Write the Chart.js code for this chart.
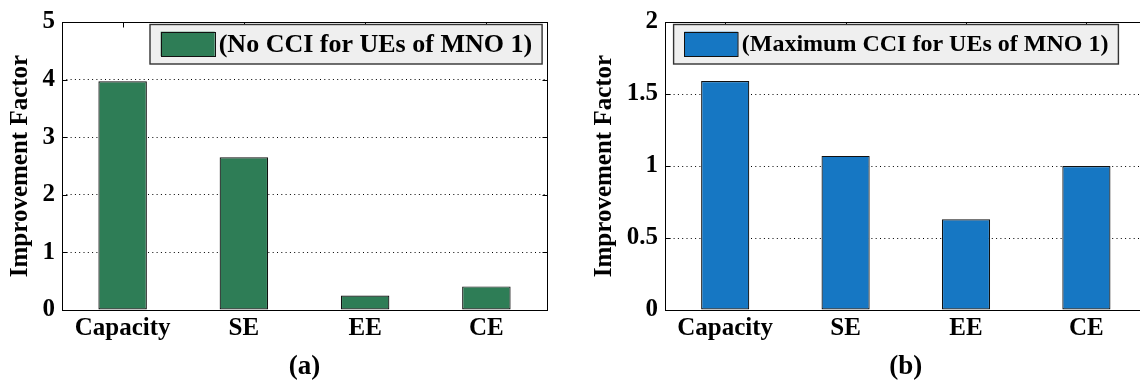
<!DOCTYPE html>
<html>
<head>
<meta charset="utf-8">
<script src="https://cdn.jsdelivr.net/npm/chart.js@4.4.1/dist/chart.umd.min.js"></script>
<style>
  html, body { margin: 0; padding: 0; background: #fff; width: 1140px; height: 383px; overflow: hidden; }
  #wrapA { position: absolute; left: 0; top: 0; width: 570px; height: 383px; }
  #wrapB { position: absolute; left: 570px; top: 0; width: 600px; height: 383px; }
</style>
</head>
<body>
<div id="wrapA"><canvas id="chartA" width="570" height="383"></canvas></div>
<div id="wrapB"><canvas id="chartB" width="600" height="383"></canvas></div>
<script>
// ---- data ----
const categories = ['Capacity', 'SE', 'EE', 'CE'];
const noCciValues = [3.97, 2.65, 0.25, 0.41];
const maxCciValues = [1.59, 1.07, 0.63, 1.00];
const noCciLabel = '(No CCI for UEs of MNO 1)';
const maxCciLabel = '(Maximum CCI for UEs of MNO 1)';
const yTitle = 'Improvement Factor';
const panelA = '(a)';
const panelB = '(b)';
const yMaxA = 5, yStepA = 1;
const yMaxB = 2, yStepB = 0.5;

const SERIF = '"Liberation Serif", "DejaVu Serif", "Times New Roman", serif';

const framePlugin = {
  id: 'frame',
  afterDatasetsDraw(chart, args, opts) {
    const { ctx, chartArea: a, scales: { x, y } } = chart;
    ctx.save();
    ctx.setLineDash([]);
    ctx.strokeStyle = '#000';
    ctx.lineWidth = 1;
    const L = Math.round(a.left) + 0.5, R = Math.round(a.right) + 0.5;
    const T = Math.round(a.top) + 0.5, B = Math.round(a.bottom) + 0.5;
    ctx.strokeRect(L, T, R - L, B - T);
    ctx.beginPath();
    x.ticks.forEach((t, i) => {
      const px = Math.round(x.getPixelForTick(i)) + 0.5;
      ctx.moveTo(px, T); ctx.lineTo(px, T + 5);
    });
    y.ticks.forEach((t, i) => {
      const py = Math.round(y.getPixelForTick(i)) + 0.5;
      ctx.moveTo(L, py); ctx.lineTo(L + 5, py);
      ctx.moveTo(R, py); ctx.lineTo(R - 5, py);
    });
    ctx.stroke();

    // legend box
    const ds = chart.data.datasets[0];
    const font = 'bold ' + opts.fontSize + 'px ' + SERIF;
    ctx.font = font;
    const tw = ctx.measureText(ds.label).width;
    const bx = opts.boxLeft, by = 24.5, bh = 39.5;
    const bw = 10.7 + opts.swatchW + 4 + tw + 10;
    ctx.fillStyle = '#efefef';
    ctx.fillRect(bx, by, bw, bh);
    ctx.strokeStyle = '#333';
    ctx.lineWidth = 1.4;
    ctx.strokeRect(bx, by, bw, bh);
    const sx = bx + 10.7, sy = 31.7;
    ctx.fillStyle = ds.backgroundColor;
    ctx.fillRect(sx, sy, opts.swatchW, 24.3);
    ctx.strokeStyle = '#111';
    ctx.lineWidth = 1;
    ctx.strokeRect(Math.round(sx) + 0.5, Math.round(sy) + 0.5, opts.swatchW, 24);
    ctx.fillStyle = '#000';
    ctx.textBaseline = 'middle';
    ctx.textAlign = 'left';
    ctx.fillText(ds.label, sx + opts.swatchW + 4, 45);
    ctx.restore();
  }
};

function makeChart(id, values, label, color, yMax, yStep, yWidth, padRight, titleText, titlePadTop, legendOpts) {
  return new Chart(document.getElementById(id), {
    type: 'bar',
    data: {
      labels: categories,
      datasets: [{
        label: label,
        data: values,
        backgroundColor: color,
        borderColor: '#111',
        borderWidth: 1.2,
        borderSkipped: false,
        barPercentage: 0.4,
        categoryPercentage: 1.0
      }]
    },
    options: {
      responsive: false,
      animation: false,
      devicePixelRatio: 1,
      layout: { padding: { left: 0, right: padRight, top: 17, bottom: 0 } },
      plugins: {
        legend: { display: false },
        tooltip: { enabled: false },
        frame: legendOpts
      },
      scales: {
        x: {
          grid: { display: false, drawTicks: false },
          border: { display: false },
          ticks: {
            color: '#000',
            font: { family: SERIF, size: 25, weight: 'bold' },
            padding: 4,
            maxRotation: 0,
            autoSkip: false
          },
          title: {
            display: true,
            text: titleText,
            color: '#000',
            font: { family: SERIF, size: 27, weight: 'bold' },
            padding: { top: 0, bottom: 0 }
          },
          afterFit: (s) => { s.height = 73; }
        },
        y: {
          min: 0,
          max: yMax,
          grid: { display: true, drawTicks: false, color: '#000', lineWidth: 1 },
          border: { display: false, dash: [1, 3.3] },
          ticks: {
            stepSize: yStep,
            color: '#000',
            font: { family: SERIF, size: 25, weight: 'bold' },
            padding: 7,
            callback: (v) => String(v)
          },
          title: {
            display: true,
            text: yTitle,
            color: '#000',
            font: { family: SERIF, size: 25, weight: 'bold' },
            padding: { top: titlePadTop, bottom: 0 }
          },
          afterFit: (s) => { s.width = yWidth; }
        }
      }
    },
    plugins: [framePlugin]
  });
}

makeChart('chartA', noCciValues, noCciLabel, '#2e7d56', yMaxA, yStepA, 62, 23, panelA, 5.5,
  { boxLeft: 150, swatchW: 54, fontSize: 26 });
makeChart('chartB', maxCciValues, maxCciLabel, '#1677c3', yMaxB, yStepB, 95, 23.4, panelB, 20,
  { boxLeft: 103.6, swatchW: 53.5, fontSize: 24 });
</script>
</body>
</html>
